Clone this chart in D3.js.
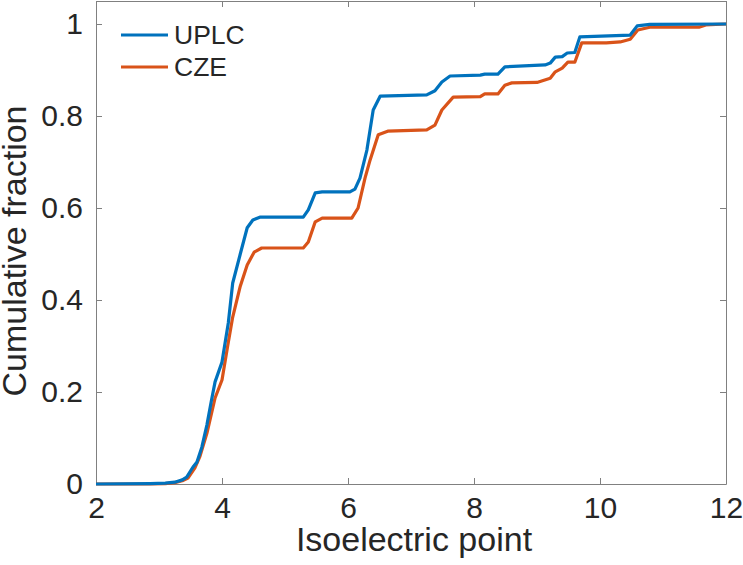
<!DOCTYPE html>
<meta charset="utf-8">
<style>
    body { margin: 0; background: #fff; }
    text { font-family: "Liberation Sans", Arial, Helvetica, sans-serif; fill: #262626; }
    .line { fill: none; stroke-width: 3.2; stroke-linejoin: round; }
</style>
<body>

<script src="https://d3js.org/d3.v7.min.js"></script>
<script>
    // isoelectric point (x) and cumulative fraction (y)
    var uplcX = [2.0, 2.86, 3.10, 3.25, 3.37, 3.44, 3.54, 3.60, 3.68, 3.76, 3.83, 3.89, 4.00, 4.10, 4.17, 4.29, 4.40, 4.49, 4.60,
                 5.29, 5.37, 5.48, 5.59, 6.03, 6.11, 6.19, 6.30, 6.40, 6.51, 7.25, 7.38, 7.49, 7.62, 8.10, 8.17, 8.38, 8.49,
                 9.13, 9.21, 9.29, 9.40, 9.48, 9.60, 9.68, 10.48, 10.59, 10.79, 12.0];
    var uplcY = [0, 0.001, 0.002, 0.004, 0.009, 0.015, 0.037, 0.047, 0.08, 0.128, 0.18, 0.222, 0.265, 0.35, 0.437, 0.50, 0.557, 0.574, 0.580,
                 0.580, 0.596, 0.633, 0.635, 0.635, 0.641, 0.665, 0.726, 0.813, 0.843, 0.846, 0.855, 0.874, 0.887, 0.889, 0.891, 0.891, 0.907,
                 0.911, 0.915, 0.928, 0.929, 0.937, 0.938, 0.972, 0.976, 0.996, 0.999, 1.0];

    var czeX = [2.0, 2.86, 3.10, 3.25, 3.37, 3.46, 3.57, 3.65, 3.76, 3.89, 4.00, 4.09, 4.17, 4.29, 4.40, 4.51, 4.63,
                5.29, 5.37, 5.48, 5.59, 6.06, 6.16, 6.27, 6.35, 6.48, 6.63, 7.25, 7.38, 7.49, 7.67, 8.10, 8.17, 8.38, 8.49, 8.60,
                9.00, 9.21, 9.29, 9.40, 9.49, 9.60, 9.71, 10.10, 10.32, 10.48, 10.60, 10.79, 11.57, 11.68, 12.0];
    var czeY = [0, 0, 0.001, 0.003, 0.007, 0.013, 0.035, 0.06, 0.11, 0.187, 0.226, 0.30, 0.363, 0.43, 0.476, 0.504, 0.513,
                0.513, 0.526, 0.570, 0.578, 0.578, 0.60, 0.665, 0.704, 0.759, 0.767, 0.770, 0.780, 0.813, 0.841, 0.842, 0.848, 0.848, 0.867, 0.872,
                0.873, 0.882, 0.896, 0.904, 0.917, 0.917, 0.959, 0.959, 0.961, 0.967, 0.987, 0.993, 0.993, 0.998, 1.0];

    var seriesNames = ["UPLC", "CZE"];
    var xTicks = [2, 4, 6, 8, 10, 12];
    var yTicks = [0, 0.2, 0.4, 0.6, 0.8, 1];

    var W = 743, H = 565;
    var plotLeft = 96, plotRight = 726, plotTop = 1, plotBottom = 484;

    var svg = d3.select("body").append("svg")
        .attr("width", W)
        .attr("height", H);

    var x = d3.scaleLinear().domain([2, 12]).range([plotLeft, plotRight]);
    var y = d3.scaleLinear().domain([0, 1.05]).range([plotBottom, plotTop]);

    var color = d3.scaleOrdinal()
        .domain(seriesNames)
        .range(["#0072BD", "#D95319"]);

    var tickFmt = d => d === 0 || d === 1 ? String(d) : d3.format(".1f")(d);

    // axes, MATLAB style box with inward ticks
    function styleAxis(g) {
        g.select(".domain").attr("stroke", "#808080").attr("stroke-width", 1);
        g.selectAll(".tick line").attr("stroke", "#808080");
    }

    svg.append("g")
        .attr("transform", "translate(0," + plotBottom + ")")
        .call(d3.axisBottom(x).tickValues(xTicks).tickSizeInner(-6).tickSizeOuter(0).tickPadding(13))
        .call(styleAxis)
        .call(g => g.selectAll("text").attr("font-size", 30).attr("fill", "#262626"));

    svg.append("g")
        .attr("transform", "translate(0," + plotTop + ")")
        .call(d3.axisTop(x).tickValues(xTicks).tickSizeInner(-6).tickSizeOuter(0).tickFormat(""))
        .call(styleAxis);

    svg.append("g")
        .attr("transform", "translate(" + plotLeft + ",0)")
        .call(d3.axisLeft(y).tickValues(yTicks).tickSizeInner(-6).tickSizeOuter(0).tickPadding(13).tickFormat(tickFmt))
        .call(styleAxis)
        .call(g => g.selectAll("text").attr("font-size", 30).attr("fill", "#262626"));

    svg.append("g")
        .attr("transform", "translate(" + plotRight + ",0)")
        .call(d3.axisRight(y).tickValues(yTicks).tickSizeInner(-6).tickSizeOuter(0).tickFormat(""))
        .call(styleAxis);

    // lines
    var line = d3.line()
        .x(d => x(d[0]))
        .y(d => y(d[1]));

    var series = [
        {name: "UPLC", values: d3.zip(uplcX, uplcY)},
        {name: "CZE", values: d3.zip(czeX, czeY)}
    ];

    series.slice().reverse().forEach(s => {
        svg.append("path")
            .datum(s.values)
            .attr("class", "line")
            .attr("stroke", color(s.name))
            .attr("d", line);
    });

    // axis labels
    svg.append("text")
        .attr("x", (plotLeft + plotRight) / 2 + 3)
        .attr("y", 551)
        .attr("text-anchor", "middle")
        .attr("font-size", 34)
        .text("Isoelectric point");

    svg.append("text")
        .attr("transform", "translate(26,251) rotate(-90)")
        .attr("text-anchor", "middle")
        .attr("font-size", 34)
        .text("Cumulative fraction");

    // legend
    var legend = svg.append("g").attr("transform", "translate(121,35)");
    seriesNames.forEach((name, i) => {
        var row = legend.append("g").attr("transform", "translate(0," + (i * 32) + ")");
        row.append("line").attr("x1", 0).attr("x2", 47).attr("y1", 0).attr("y2", 0)
            .attr("stroke", color(name)).attr("stroke-width", 3);
        row.append("text").attr("x", 53).attr("y", 9).attr("font-size", 26.5).text(name);
    });
</script>

</body>
</html>
